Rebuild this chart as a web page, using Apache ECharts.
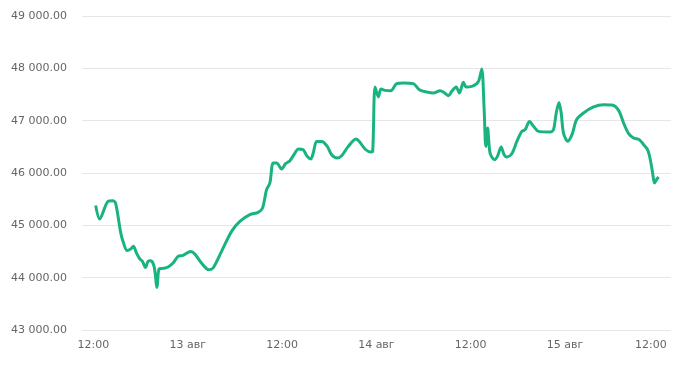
<!DOCTYPE html>
<html>
<head>
<meta charset="utf-8">
<script src="https://cdn.jsdelivr.net/npm/echarts@6/dist/echarts.min.js"></script>
<style>
  html, body { margin: 0; padding: 0; background: #fff; }
  #chart { width: 697px; height: 370px; }
</style>
</head>
<body>
<div id="chart"></div>
<script>
// часы от 12:00 12 авг 2021
var hours = [0.29, 0.80, 1.86, 2.50, 2.84, 3.48, 3.77, 4.28, 4.75, 5.09,
    5.48, 5.90, 6.24, 6.62, 6.95, 7.30, 7.72, 8.10, 8.35, 8.86,
    9.50, 10.13, 10.77, 11.41, 12.39, 12.90, 13.75, 14.68, 15.23, 16.30,
    17.58, 18.63, 19.91, 20.96, 21.52, 22.03, 22.45, 22.87, 23.31, 23.94,
    24.45, 25.00, 25.64, 26.06, 26.69, 27.13, 27.64, 27.97, 28.40, 29.04,
    29.75, 30.31, 31.02, 31.58, 32.43, 33.41, 33.83, 34.55, 35.28, 35.53,
    35.83, 36.25, 36.59, 37.10, 37.82, 38.59, 39.43, 40.70, 41.47, 42.41,
    43.25, 44.10, 44.52, 45.16, 45.59, 46.14, 46.56, 47.07, 47.41, 48.14,
    48.78, 49.07, 49.41, 49.71, 49.92, 50.15, 50.46, 51.02, 51.40, 51.87,
    52.25, 52.60, 53.23, 53.87, 54.51, 54.93, 55.48, 55.99, 56.62, 58.11,
    58.53, 58.88, 59.23, 59.51, 59.80, 60.34, 60.91, 61.46, 62.35, 63.63,
    64.90, 65.97, 66.81, 67.45, 68.09, 68.72, 69.45, 70.00, 70.50, 70.85,
    71.14, 71.39, 71.70, 71.91];

var prices = [45380, 45121, 45458, 45471, 45414, 44854, 44693, 44521, 44548, 44598,
    44471, 44357, 44311, 44196, 44311, 44324, 44215, 43814, 44166, 44177,
    44204, 44280, 44407, 44426, 44502, 44452, 44280, 44152, 44185, 44502,
    44884, 45075, 45203, 45247, 45331, 45681, 45809, 46191, 46191, 46077,
    46178, 46235, 46382, 46459, 46445, 46331, 46268, 46382, 46604, 46604,
    46509, 46350, 46287, 46331, 46509, 46650, 46604, 46459, 46402, 46413,
    47644, 47453, 47606, 47579, 47573, 47707, 47720, 47707, 47592, 47548,
    47529, 47573, 47548, 47478, 47560, 47644, 47529, 47732, 47644, 47655,
    47707, 47783, 47988, 47210, 46509, 46860, 46382, 46254, 46318, 46497,
    46350, 46306, 46369, 46604, 46795, 46828, 46986, 46891, 46795, 46784,
    46828, 47147, 47349, 47147, 46765, 46608, 46742, 47019, 47147, 47262,
    47306, 47300, 47197, 46956, 46751, 46669, 46637, 46541, 46446, 46254,
    46000, 45809, 45886, 45924];

var yMin = 43000, yMax = 49000, yStep = 1000;

var HOUR = 3600 * 1000;
var base = new Date(2021, 7, 12, 12, 0).getTime();
var lastTick = new Date(2021, 7, 15, 12, 0).getTime();

var seriesData = [];
for (var i = 0; i < hours.length; i++) {
    seriesData.push([base + hours[i] * HOUR, prices[i]]);
}

var labelFont = 'DejaVu Sans';
var labelColor = '#666';

function fmtPrice(v) {
    var s = String(Math.round(v));
    return s.replace(/\B(?=(\d{3})+(?!\d))/g, ' ') + '.00';
}

var myChart = echarts.init(document.getElementById('chart'));

var option = {
    animation: false,
    grid: { left: 82, right: 26, top: 16, bottom: 40, containLabel: false },
    xAxis: {
        type: 'time',
        min: base - 1.45 * HOUR,
        max: base + 73.48 * HOUR,
        minInterval: 12 * HOUR,
        maxInterval: 12 * HOUR,
        axisLine: { show: false },
        axisTick: { show: false },
        splitLine: { show: false },
        axisLabel: {
            margin: 10,
            fontSize: 11,
            fontFamily: labelFont,
            color: labelColor,
            hideOverlap: false,
            formatter: function (v) {
                var d = new Date(v);
                if (d.getMinutes() !== 0) return '';
                if (d.getHours() === 0) return d.getDate() + ' авг';
                if (d.getHours() === 12) {
                    // последняя подпись прижата внутрь
                    if (Math.abs(v - lastTick) < 1000) return '{r|12:00}';
                    return '12:00';
                }
                return '';
            },
            rich: {
                r: { padding: [0, 17, 0, 0], fontSize: 11, fontFamily: labelFont, color: labelColor }
            }
        }
    },
    yAxis: {
        type: 'value',
        min: yMin,
        max: yMax,
        interval: yStep,
        axisLine: { show: false },
        axisTick: { show: false },
        axisLabel: {
            margin: 15,
            fontSize: 11,
            fontFamily: labelFont,
            color: labelColor,
            formatter: fmtPrice
        },
        splitLine: { lineStyle: { color: '#e6e6e6', width: 1 } }
    },
    series: [{
        type: 'line',
        data: seriesData,
        showSymbol: false,
        smooth: 0.3,
        lineStyle: { color: '#19b47e', width: 3 },
        itemStyle: { color: '#19b47e' }
    }]
};

myChart.setOption(option);
</script>
</body>
</html>
